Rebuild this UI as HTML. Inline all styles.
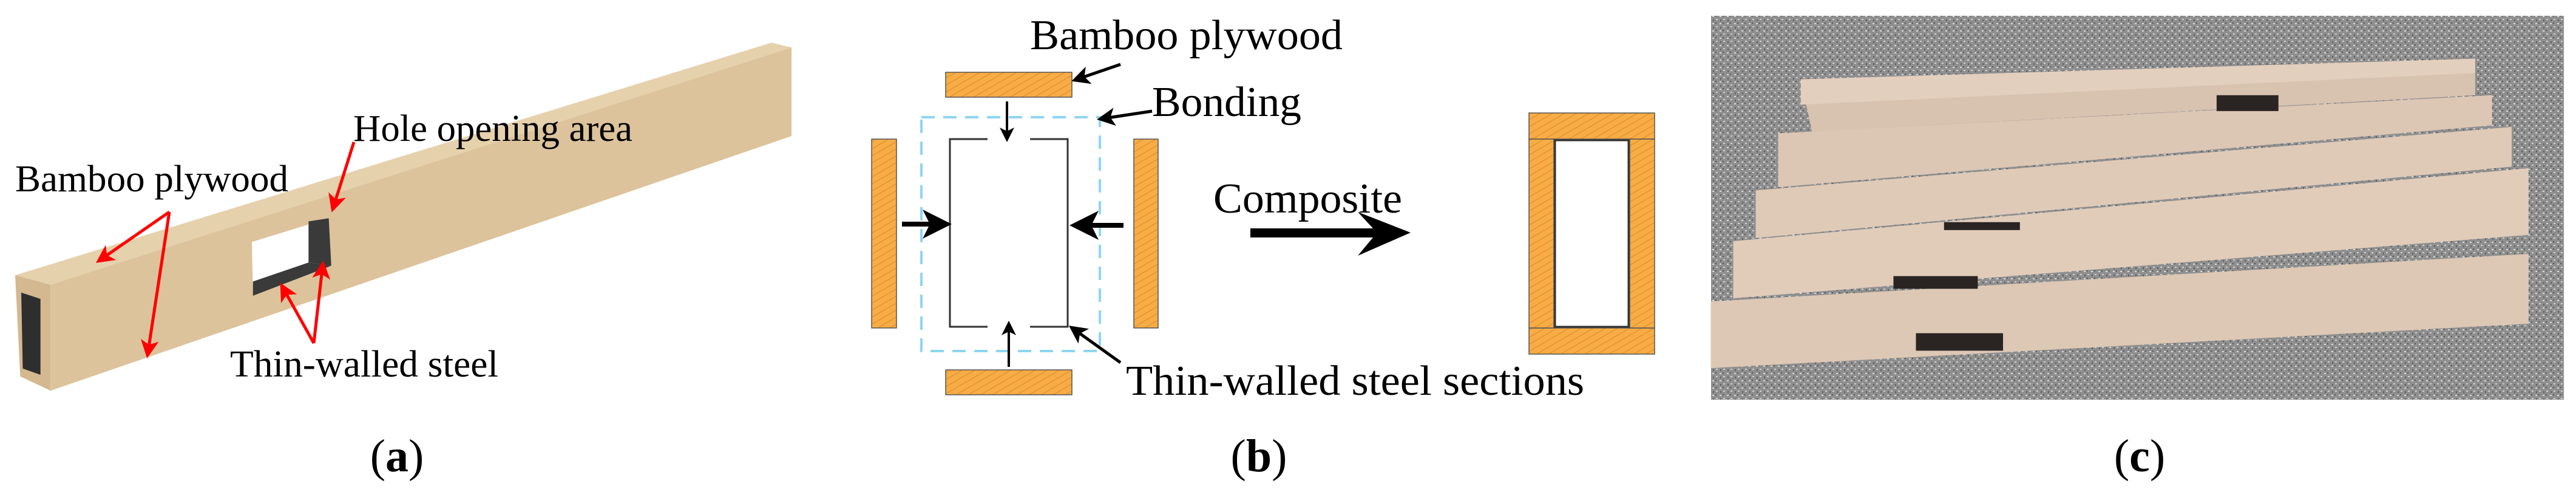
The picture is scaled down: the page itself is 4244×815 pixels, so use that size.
<!DOCTYPE html>
<html><head><meta charset="utf-8"><style>
html,body{margin:0;padding:0;background:#fff;}
svg{display:block;}
text{font-family:"Liberation Serif",serif;fill:#000;}
</style></head><body>
<svg width="4244" height="815" viewBox="0 0 4244 815" xmlns="http://www.w3.org/2000/svg">
<defs>
<pattern id="hatch" width="10" height="10" patternUnits="userSpaceOnUse" patternTransform="rotate(60)">
<rect width="10" height="10" fill="#f7ac45"/>
<line x1="0" y1="0" x2="0" y2="10" stroke="#d98a2a" stroke-width="2"/>
</pattern>
<pattern id="speck" width="12" height="12" patternUnits="userSpaceOnUse">
<rect width="12" height="12" fill="#8f8f8f"/>
<rect x="1" y="2" width="3" height="2" fill="#d8d8d8"/>
<rect x="7" y="7" width="3" height="2" fill="#cfcfcf"/>
<rect x="6" y="1" width="2" height="2" fill="#555"/>
<rect x="2" y="8" width="2" height="3" fill="#606060"/>
</pattern>
<marker id="ra" markerWidth="6" markerHeight="6" refX="5" refY="3" orient="auto" markerUnits="strokeWidth"><path d="M0,0 L6,3 L0,6 L1.5,3 Z" fill="#f00"/></marker>
<marker id="ba" markerWidth="6" markerHeight="6" refX="5" refY="3" orient="auto" markerUnits="strokeWidth"><path d="M0,0 L6,3 L0,6 L1.5,3 Z" fill="#000"/></marker>
</defs>

<!-- Panel (a) -->
<g transform="scale(0.8333,0.5208)">
<polygon points="30,870 1525,135 1565,150 100,900" fill="#e6d1ad"/>
<polygon points="100,900 1565,150 1565,430 100,1235" fill="#dcc39b"/>
<polygon points="30,870 100,900 100,1235 40,1190" fill="#d3b890"/>
<polygon points="42,925 80,945 80,1185 45,1165" fill="#2e2e2e"/>
<polygon points="498,765 650,690 655,840 500,935" fill="#fff"/>
<polygon points="610,700 650,690 655,840 610,830" fill="#3a3a3a"/>
<polygon points="500,890 610,830 655,840 500,935" fill="#3a3a3a"/>
</g>
<g stroke="#f00" stroke-width="5" fill="none">
<line x1="279" y1="349" x2="162" y2="430" marker-end="url(#ra)"/>
<line x1="279" y1="349" x2="243" y2="585" marker-end="url(#ra)"/>
<line x1="583" y1="234" x2="548" y2="345" marker-end="url(#ra)"/>
<line x1="517" y1="565" x2="464" y2="470" marker-end="url(#ra)"/>
<line x1="517" y1="565" x2="532" y2="434" marker-end="url(#ra)"/>
</g>
<text x="582" y="232" font-size="62" textLength="460" lengthAdjust="spacingAndGlyphs">Hole opening area</text>
<text x="25" y="315" font-size="62" textLength="450" lengthAdjust="spacingAndGlyphs">Bamboo plywood</text>
<text x="379" y="620" font-size="62" textLength="442" lengthAdjust="spacingAndGlyphs">Thin-walled steel</text>
<text x="654" y="776" font-size="76" text-anchor="middle">(<tspan font-weight="bold">a</tspan>)</text>

<!-- Panel (b) -->
<g stroke="#555" stroke-width="1.5">
<rect x="1558" y="119" width="208" height="41" fill="url(#hatch)"/>
<rect x="1558" y="609" width="208" height="41" fill="url(#hatch)"/>
<rect x="1436" y="229" width="41" height="311" fill="url(#hatch)"/>
<rect x="1868" y="229" width="40" height="311" fill="url(#hatch)"/>
</g>
<rect x="1518" y="193" width="294" height="385" fill="none" stroke="#8dd6f2" stroke-width="4" stroke-dasharray="22,14"/>
<g fill="none" stroke="#333" stroke-width="3">
<polyline points="1627,229 1565,229 1565,538 1627,538"/>
<polyline points="1697,229 1759,229 1759,538 1697,538"/>
</g>
<g stroke="#000" fill="none">
<line x1="1659" y1="167" x2="1659" y2="230" stroke-width="4" marker-end="url(#ba)"/>
<line x1="1662" y1="604" x2="1662" y2="532" stroke-width="4" marker-end="url(#ba)"/>
<line x1="1486" y1="369" x2="1560" y2="369" stroke-width="8" marker-end="url(#ba)"/>
<line x1="1851" y1="371" x2="1770" y2="371" stroke-width="8" marker-end="url(#ba)"/>
<line x1="1846" y1="106" x2="1770" y2="132" stroke-width="5" marker-end="url(#ba)"/>
<line x1="1898" y1="183" x2="1812" y2="196" stroke-width="5" marker-end="url(#ba)"/>
<line x1="1846" y1="597" x2="1765" y2="539" stroke-width="5" marker-end="url(#ba)"/>
</g>
<polygon points="2060,376 2262,376 2237,349 2324,383 2237,421 2262,391 2060,391" fill="#000"/>
<g stroke="#555" stroke-width="1.5">
<rect x="2519" y="186" width="207" height="43" fill="url(#hatch)"/>
<rect x="2519" y="540" width="207" height="43" fill="url(#hatch)"/>
<rect x="2519" y="229" width="41" height="311" fill="url(#hatch)"/>
<rect x="2685" y="229" width="41" height="311" fill="url(#hatch)"/>
</g>
<rect x="2562" y="231" width="121" height="307" fill="#fff" stroke="#333" stroke-width="3"/>
<text x="1697" y="81" font-size="70" textLength="515" lengthAdjust="spacingAndGlyphs">Bamboo plywood</text>
<text x="1898" y="191" font-size="70" textLength="246" lengthAdjust="spacingAndGlyphs">Bonding</text>
<text x="1999" y="350" font-size="70" textLength="311" lengthAdjust="spacingAndGlyphs">Composite</text>
<text x="1855" y="650" font-size="70" textLength="755" lengthAdjust="spacingAndGlyphs">Thin-walled steel sections</text>
<text x="2074" y="776" font-size="76" text-anchor="middle">(<tspan font-weight="bold">b</tspan>)</text>

<!-- Panel (c) -->
<rect x="2819" y="26" width="1405" height="632" fill="url(#speck)"/>
<g transform="translate(2800,0) scale(0.926,0.5225)">
<polygon points="180,250 1380,185 1380,300 200,415" fill="#d8c2b0"/>
<polygon points="180,250 1380,185 1380,230 180,330" fill="#e3cfbe"/>
<polygon points="140,420 1410,300 1410,395 140,590" fill="#dcc6b4"/>
<polygon points="100,600 1445,400 1445,525 100,750" fill="#dfcab8"/>
<polygon points="60,760 1475,530 1475,740 60,940" fill="#e1ccba"/>
<polygon points="20,950 1475,800 1475,1020 20,1160" fill="#ddc8b5"/>
<g fill="#2a2522">
<rect x="920" y="300" width="110" height="50"/>
<rect x="435" y="700" width="135" height="25"/>
<rect x="345" y="870" width="150" height="40"/>
<rect x="385" y="1050" width="155" height="55"/>
</g>
</g>
<text x="3525" y="776" font-size="76" text-anchor="middle">(<tspan font-weight="bold">c</tspan>)</text>
</svg>
</body></html>
